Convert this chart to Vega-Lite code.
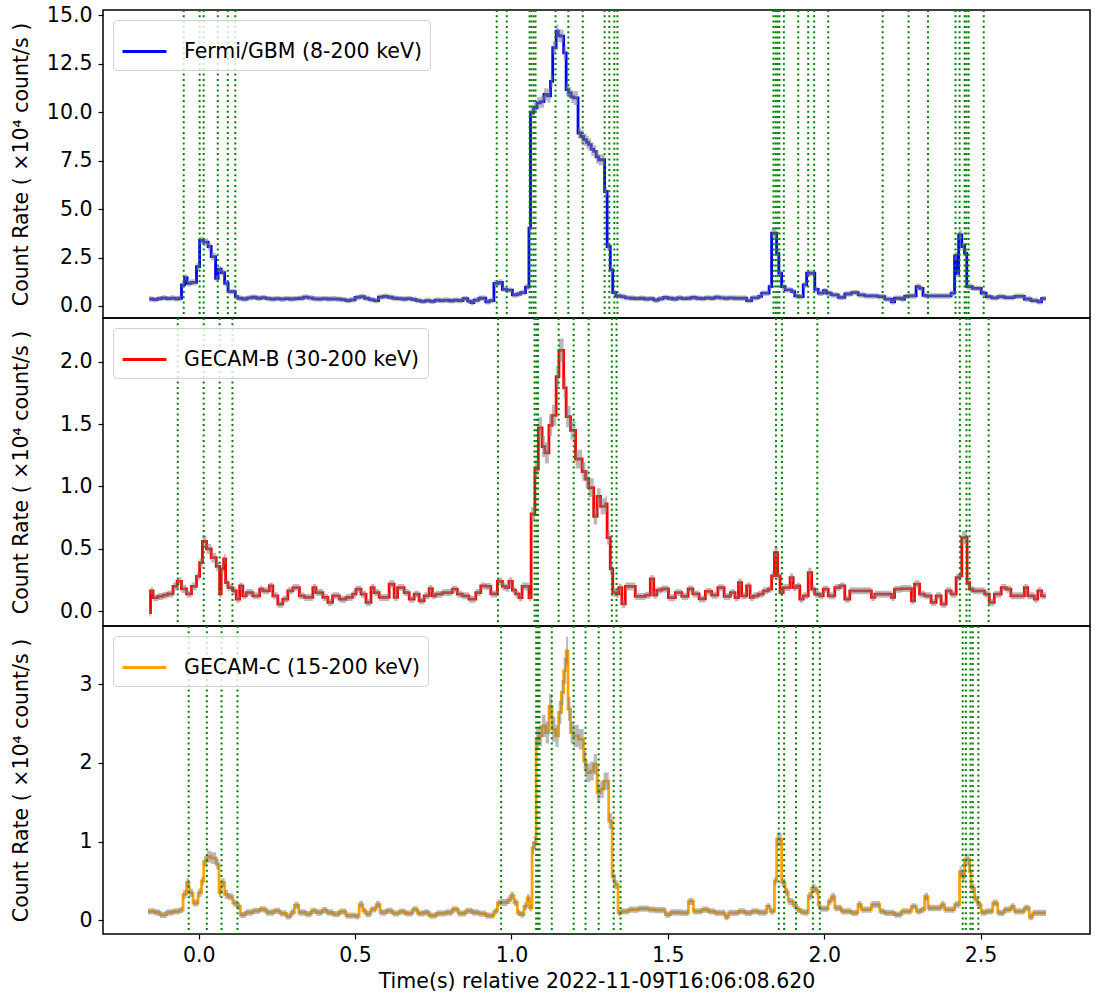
{
  "$schema": "https://vega.github.io/schema/vega-lite/v6.json",
  "padding": {"left": 10, "top": 4, "right": 0, "bottom": 0},
  "spacing": 0,
  "bounds": "flush",
  "config": {
    "font": "DejaVu Sans",
    "view": {"stroke": "black", "strokeWidth": 1.5},
    "axis": {
      "grid": false, "domain": false, "tickColor": "black", "tickSize": 5, "tickWidth": 1.2,
      "labelFontSize": 20.5, "labelColor": "black", "labelPadding": 6, "labelFlush": false, "labelOverlap": false,
      "titleFontSize": 20.5, "titleFontWeight": "normal", "titleColor": "black"
    },
    "axisY": {"minExtent": 64, "maxExtent": 64, "titlePadding": 8},
    "axisX": {"titlePadding": 6},
    "legend": {
      "orient": "top-left", "offset": 10, "padding": 8, "title": null,
      "strokeColor": "#d0d0d0", "fillColor": "rgba(255,255,255,0.8)", "cornerRadius": 4,
      "labelFontSize": 20.5, "labelColor": "black", "labelOffset": 16, "labelLimit": 0,
      "symbolType": "stroke", "symbolStrokeWidth": 2.8, "symbolSize": 1936
    }
  },
  "resolve": {"scale": {"y": "independent", "color": "independent"}, "legend": {"color": "independent"}},
  "datasets": {
    "gbm": [
      {"t":-0.158,"r":0.36,"e":0.14},{"t":-0.145,"r":0.33,"e":0.14},{"t":-0.132,"r":0.38,"e":0.14},{"t":-0.118,"r":0.42,"e":0.14},
      {"t":-0.104,"r":0.38,"e":0.14},{"t":-0.09,"r":0.41,"e":0.14},{"t":-0.076,"r":0.37,"e":0.14},{"t":-0.065,"r":0.40,"e":0.14},
      {"t":-0.055,"r":1.09,"e":0.16},{"t":-0.045,"r":1.46,"e":0.16},{"t":-0.037,"r":1.17,"e":0.16},{"t":-0.025,"r":1.22,"e":0.16},
      {"t":-0.007,"r":2.03,"e":0.2},{"t":0.003,"r":3.38,"e":0.2},{"t":0.016,"r":3.30,"e":0.2},{"t":0.030,"r":3.07,"e":0.2},
      {"t":0.040,"r":2.55,"e":0.2},{"t":0.054,"r":1.43,"e":0.16},{"t":0.062,"r":1.90,"e":0.16},{"t":0.072,"r":1.72,"e":0.16},
      {"t":0.083,"r":1.17,"e":0.16},{"t":0.094,"r":0.74,"e":0.14},{"t":0.117,"r":0.48,"e":0.14},{"t":0.125,"r":0.40,"e":0.14},
      {"t":0.140,"r":0.36,"e":0.14},{"t":0.155,"r":0.42,"e":0.14},{"t":0.170,"r":0.45,"e":0.14},{"t":0.185,"r":0.40,"e":0.14},
      {"t":0.200,"r":0.43,"e":0.14},{"t":0.215,"r":0.38,"e":0.14},{"t":0.230,"r":0.36,"e":0.14},{"t":0.245,"r":0.38,"e":0.14},
      {"t":0.260,"r":0.35,"e":0.14},{"t":0.275,"r":0.38,"e":0.14},{"t":0.290,"r":0.36,"e":0.14},{"t":0.305,"r":0.38,"e":0.14},
      {"t":0.320,"r":0.40,"e":0.14},{"t":0.335,"r":0.46,"e":0.14},{"t":0.350,"r":0.42,"e":0.14},{"t":0.365,"r":0.37,"e":0.14},
      {"t":0.380,"r":0.36,"e":0.14},{"t":0.395,"r":0.38,"e":0.14},{"t":0.410,"r":0.36,"e":0.14},{"t":0.425,"r":0.37,"e":0.14},
      {"t":0.440,"r":0.35,"e":0.14},{"t":0.455,"r":0.33,"e":0.14},{"t":0.470,"r":0.28,"e":0.14},{"t":0.485,"r":0.32,"e":0.14},
      {"t":0.500,"r":0.44,"e":0.14},{"t":0.515,"r":0.48,"e":0.14},{"t":0.530,"r":0.40,"e":0.14},{"t":0.545,"r":0.33,"e":0.14},
      {"t":0.560,"r":0.28,"e":0.14},{"t":0.575,"r":0.46,"e":0.14},{"t":0.590,"r":0.50,"e":0.14},{"t":0.605,"r":0.45,"e":0.14},
      {"t":0.620,"r":0.40,"e":0.14},{"t":0.635,"r":0.38,"e":0.14},{"t":0.650,"r":0.36,"e":0.14},{"t":0.665,"r":0.38,"e":0.14},
      {"t":0.680,"r":0.34,"e":0.14},{"t":0.695,"r":0.28,"e":0.14},{"t":0.710,"r":0.24,"e":0.14},{"t":0.725,"r":0.28,"e":0.14},
      {"t":0.740,"r":0.24,"e":0.14},{"t":0.755,"r":0.30,"e":0.14},{"t":0.770,"r":0.28,"e":0.14},{"t":0.785,"r":0.30,"e":0.14},
      {"t":0.800,"r":0.27,"e":0.14},{"t":0.815,"r":0.30,"e":0.14},{"t":0.830,"r":0.28,"e":0.14},{"t":0.845,"r":0.38,"e":0.14},
      {"t":0.860,"r":0.25,"e":0.14},{"t":0.870,"r":0.18,"e":0.14},{"t":0.880,"r":0.30,"e":0.14},{"t":0.896,"r":0.40,"e":0.14},
      {"t":0.918,"r":0.22,"e":0.14},{"t":0.930,"r":0.28,"e":0.14},{"t":0.944,"r":1.17,"e":0.16},{"t":0.960,"r":1.22,"e":0.16},
      {"t":0.971,"r":0.86,"e":0.14},{"t":0.985,"r":0.82,"e":0.14},{"t":1.003,"r":0.57,"e":0.14},{"t":1.018,"r":0.62,"e":0.14},
      {"t":1.029,"r":0.69,"e":0.14},{"t":1.045,"r":0.97,"e":0.16},{"t":1.056,"r":4.02,"e":0.2},{"t":1.061,"r":9.97,"e":0.28},
      {"t":1.071,"r":10.23,"e":0.28},{"t":1.082,"r":10.49,"e":0.28},{"t":1.093,"r":10.55,"e":0.32},{"t":1.104,"r":10.92,"e":0.32},
      {"t":1.115,"r":10.85,"e":0.36},{"t":1.125,"r":11.6,"e":0.32},{"t":1.132,"r":13.33,"e":0.34},{"t":1.143,"r":14.19,"e":0.34},
      {"t":1.150,"r":13.95,"e":0.34},{"t":1.157,"r":13.93,"e":0.34},{"t":1.167,"r":13.07,"e":0.34},{"t":1.175,"r":11.17,"e":0.32},
      {"t":1.183,"r":11.0,"e":0.32},{"t":1.191,"r":10.8,"e":0.32},{"t":1.199,"r":10.74,"e":0.36},{"t":1.213,"r":8.93,"e":0.28},
      {"t":1.222,"r":8.75,"e":0.32},{"t":1.231,"r":8.59,"e":0.32},{"t":1.240,"r":8.45,"e":0.34},{"t":1.247,"r":8.33,"e":0.32},
      {"t":1.255,"r":8.1,"e":0.34},{"t":1.263,"r":7.98,"e":0.32},{"t":1.271,"r":7.7,"e":0.34},{"t":1.279,"r":7.55,"e":0.28},
      {"t":1.298,"r":5.91,"e":0.26},{"t":1.306,"r":3.07,"e":0.2},{"t":1.316,"r":1.86,"e":0.16},{"t":1.324,"r":0.69,"e":0.14},
      {"t":1.334,"r":0.52,"e":0.14},{"t":1.350,"r":0.48,"e":0.14},{"t":1.364,"r":0.42,"e":0.14},{"t":1.380,"r":0.40,"e":0.14},
      {"t":1.395,"r":0.38,"e":0.14},{"t":1.410,"r":0.40,"e":0.14},{"t":1.425,"r":0.36,"e":0.14},{"t":1.440,"r":0.38,"e":0.14},
      {"t":1.455,"r":0.30,"e":0.14},{"t":1.470,"r":0.37,"e":0.14},{"t":1.485,"r":0.44,"e":0.14},{"t":1.500,"r":0.40,"e":0.14},
      {"t":1.515,"r":0.36,"e":0.14},{"t":1.530,"r":0.42,"e":0.14},{"t":1.545,"r":0.38,"e":0.14},{"t":1.560,"r":0.40,"e":0.14},
      {"t":1.575,"r":0.44,"e":0.14},{"t":1.590,"r":0.40,"e":0.14},{"t":1.605,"r":0.38,"e":0.14},{"t":1.620,"r":0.42,"e":0.14},
      {"t":1.635,"r":0.40,"e":0.14},{"t":1.650,"r":0.45,"e":0.14},{"t":1.665,"r":0.42,"e":0.14},{"t":1.680,"r":0.40,"e":0.14},
      {"t":1.695,"r":0.42,"e":0.14},{"t":1.710,"r":0.40,"e":0.14},{"t":1.726,"r":0.40,"e":0.14},{"t":1.752,"r":0.28,"e":0.14},
      {"t":1.768,"r":0.42,"e":0.14},{"t":1.790,"r":0.50,"e":0.14},{"t":1.800,"r":0.66,"e":0.14},{"t":1.824,"r":1.0,"e":0.16},
      {"t":1.832,"r":3.76,"e":0.24},{"t":1.848,"r":2.72,"e":0.2},{"t":1.855,"r":1.69,"e":0.16},{"t":1.864,"r":1.0,"e":0.16},
      {"t":1.875,"r":0.83,"e":0.14},{"t":1.896,"r":0.74,"e":0.14},{"t":1.906,"r":0.52,"e":0.14},{"t":1.917,"r":0.48,"e":0.14},
      {"t":1.933,"r":1.09,"e":0.16},{"t":1.944,"r":1.69,"e":0.16},{"t":1.970,"r":0.86,"e":0.14},{"t":1.981,"r":0.66,"e":0.14},
      {"t":1.997,"r":0.79,"e":0.14},{"t":2.007,"r":0.66,"e":0.14},{"t":2.023,"r":0.57,"e":0.14},{"t":2.045,"r":0.45,"e":0.14},
      {"t":2.066,"r":0.62,"e":0.14},{"t":2.087,"r":0.69,"e":0.14},{"t":2.109,"r":0.57,"e":0.14},{"t":2.130,"r":0.52,"e":0.14},
      {"t":2.172,"r":0.48,"e":0.14},{"t":2.194,"r":0.35,"e":0.14},{"t":2.215,"r":0.22,"e":0.14},{"t":2.225,"r":0.40,"e":0.14},
      {"t":2.247,"r":0.36,"e":0.14},{"t":2.257,"r":0.50,"e":0.14},{"t":2.268,"r":0.52,"e":0.14},{"t":2.294,"r":1.0,"e":0.16},
      {"t":2.305,"r":0.91,"e":0.14},{"t":2.316,"r":0.55,"e":0.14},{"t":2.326,"r":0.52,"e":0.14},{"t":2.406,"r":0.66,"e":0.14},
      {"t":2.417,"r":2.59,"e":0.2},{"t":2.425,"r":1.69,"e":0.2},{"t":2.430,"r":3.67,"e":0.24},{"t":2.440,"r":3.07,"e":0.2},
      {"t":2.449,"r":2.72,"e":0.2},{"t":2.456,"r":1.0,"e":0.16},{"t":2.474,"r":0.91,"e":0.14},{"t":2.502,"r":0.66,"e":0.14},
      {"t":2.518,"r":0.48,"e":0.14},{"t":2.535,"r":0.42,"e":0.14},{"t":2.555,"r":0.48,"e":0.14},{"t":2.576,"r":0.43,"e":0.14},
      {"t":2.608,"r":0.50,"e":0.14},{"t":2.640,"r":0.36,"e":0.14},{"t":2.661,"r":0.28,"e":0.14},{"t":2.683,"r":0.22,"e":0.14},
      {"t":2.695,"r":0.38,"e":0.14},{"t":2.709,"r":0.38,"e":0.14}
    ],
    "gb": [
      {"t":-0.158,"r":-0.01,"e":0.03},{"t":-0.154,"r":0.165,"e":0.028},{"t":-0.146,"r":0.11,"e":0.028},{"t":-0.130,"r":0.12,"e":0.028},
      {"t":-0.114,"r":0.13,"e":0.028},{"t":-0.100,"r":0.14,"e":0.028},{"t":-0.082,"r":0.20,"e":0.032},{"t":-0.069,"r":0.24,"e":0.032},
      {"t":-0.055,"r":0.18,"e":0.032},{"t":-0.039,"r":0.14,"e":0.028},{"t":-0.023,"r":0.20,"e":0.032},{"t":-0.007,"r":0.28,"e":0.032},
      {"t":0.003,"r":0.39,"e":0.038},{"t":0.012,"r":0.56,"e":0.045},{"t":0.025,"r":0.50,"e":0.04},{"t":0.040,"r":0.43,"e":0.04},
      {"t":0.056,"r":0.36,"e":0.038},{"t":0.067,"r":0.14,"e":0.032},{"t":0.072,"r":0.34,"e":0.038},{"t":0.080,"r":0.42,"e":0.038},
      {"t":0.086,"r":0.23,"e":0.032},{"t":0.094,"r":0.19,"e":0.028},{"t":0.109,"r":0.165,"e":0.028},{"t":0.120,"r":0.098,"e":0.028},
      {"t":0.131,"r":0.204,"e":0.028},{"t":0.141,"r":0.125,"e":0.028},{"t":0.152,"r":0.151,"e":0.028},{"t":0.173,"r":0.125,"e":0.028},
      {"t":0.195,"r":0.178,"e":0.028},{"t":0.205,"r":0.165,"e":0.028},{"t":0.226,"r":0.204,"e":0.028},{"t":0.237,"r":0.125,"e":0.028},
      {"t":0.253,"r":0.058,"e":0.028},{"t":0.269,"r":0.098,"e":0.028},{"t":0.285,"r":0.165,"e":0.028},{"t":0.301,"r":0.191,"e":0.028},
      {"t":0.322,"r":0.125,"e":0.028},{"t":0.338,"r":0.112,"e":0.028},{"t":0.365,"r":0.191,"e":0.028},{"t":0.375,"r":0.151,"e":0.028},
      {"t":0.397,"r":0.112,"e":0.028},{"t":0.413,"r":0.072,"e":0.028},{"t":0.428,"r":0.125,"e":0.028},{"t":0.450,"r":0.098,"e":0.028},
      {"t":0.471,"r":0.112,"e":0.028},{"t":0.492,"r":0.138,"e":0.028},{"t":0.503,"r":0.178,"e":0.028},{"t":0.519,"r":0.138,"e":0.028},
      {"t":0.535,"r":0.072,"e":0.028},{"t":0.551,"r":0.191,"e":0.028},{"t":0.561,"r":0.151,"e":0.028},{"t":0.577,"r":0.112,"e":0.028},
      {"t":0.609,"r":0.218,"e":0.032},{"t":0.625,"r":0.112,"e":0.028},{"t":0.636,"r":0.191,"e":0.028},{"t":0.657,"r":0.151,"e":0.028},
      {"t":0.673,"r":0.098,"e":0.028},{"t":0.689,"r":0.138,"e":0.028},{"t":0.705,"r":0.085,"e":0.028},{"t":0.721,"r":0.125,"e":0.028},
      {"t":0.737,"r":0.183,"e":0.028},{"t":0.747,"r":0.125,"e":0.028},{"t":0.758,"r":0.138,"e":0.028},{"t":0.779,"r":0.151,"e":0.028},
      {"t":0.811,"r":0.178,"e":0.028},{"t":0.827,"r":0.138,"e":0.028},{"t":0.843,"r":0.125,"e":0.028},{"t":0.864,"r":0.098,"e":0.028},
      {"t":0.886,"r":0.151,"e":0.028},{"t":0.902,"r":0.204,"e":0.028},{"t":0.918,"r":0.20,"e":0.028},{"t":0.934,"r":0.14,"e":0.028},
      {"t":0.955,"r":0.24,"e":0.032},{"t":0.971,"r":0.20,"e":0.032},{"t":0.981,"r":0.19,"e":0.032},{"t":0.992,"r":0.24,"e":0.032},
      {"t":1.003,"r":0.17,"e":0.028},{"t":1.013,"r":0.14,"e":0.028},{"t":1.024,"r":0.11,"e":0.028},{"t":1.034,"r":0.20,"e":0.032},
      {"t":1.056,"r":0.11,"e":0.028},{"t":1.063,"r":0.78,"e":0.055},{"t":1.075,"r":1.14,"e":0.075},{"t":1.086,"r":1.47,"e":0.085},
      {"t":1.098,"r":1.32,"e":0.085},{"t":1.107,"r":1.27,"e":0.085},{"t":1.120,"r":1.49,"e":0.085},{"t":1.130,"r":1.57,"e":0.085},
      {"t":1.143,"r":1.88,"e":0.085},{"t":1.152,"r":2.09,"e":0.095},{"t":1.167,"r":1.79,"e":0.085},{"t":1.175,"r":1.56,"e":0.085},
      {"t":1.189,"r":1.45,"e":0.075},{"t":1.205,"r":1.22,"e":0.075},{"t":1.226,"r":1.12,"e":0.075},{"t":1.237,"r":1.06,"e":0.075},
      {"t":1.247,"r":0.99,"e":0.075},{"t":1.263,"r":0.76,"e":0.065},{"t":1.274,"r":0.92,"e":0.065},{"t":1.285,"r":0.84,"e":0.065},
      {"t":1.301,"r":0.86,"e":0.065},{"t":1.306,"r":0.59,"e":0.055},{"t":1.316,"r":0.34,"e":0.045},{"t":1.324,"r":0.15,"e":0.032},
      {"t":1.334,"r":0.14,"e":0.032},{"t":1.343,"r":0.19,"e":0.032},{"t":1.353,"r":0.06,"e":0.032},{"t":1.364,"r":0.20,"e":0.032},
      {"t":1.396,"r":0.12,"e":0.028},{"t":1.428,"r":0.13,"e":0.028},{"t":1.444,"r":0.26,"e":0.032},{"t":1.455,"r":0.13,"e":0.028},
      {"t":1.465,"r":0.17,"e":0.028},{"t":1.481,"r":0.18,"e":0.028},{"t":1.502,"r":0.11,"e":0.028},{"t":1.524,"r":0.15,"e":0.028},
      {"t":1.545,"r":0.12,"e":0.028},{"t":1.565,"r":0.18,"e":0.028},{"t":1.580,"r":0.14,"e":0.028},{"t":1.600,"r":0.10,"e":0.028},
      {"t":1.620,"r":0.16,"e":0.028},{"t":1.640,"r":0.13,"e":0.028},{"t":1.660,"r":0.19,"e":0.028},{"t":1.680,"r":0.12,"e":0.028},
      {"t":1.700,"r":0.15,"e":0.028},{"t":1.715,"r":0.11,"e":0.028},{"t":1.726,"r":0.231,"e":0.032},{"t":1.736,"r":0.125,"e":0.028},
      {"t":1.752,"r":0.204,"e":0.028},{"t":1.763,"r":0.112,"e":0.028},{"t":1.774,"r":0.125,"e":0.028},{"t":1.789,"r":0.138,"e":0.028},
      {"t":1.805,"r":0.165,"e":0.028},{"t":1.821,"r":0.178,"e":0.028},{"t":1.832,"r":0.284,"e":0.032},{"t":1.841,"r":0.471,"e":0.045},
      {"t":1.851,"r":0.284,"e":0.032},{"t":1.859,"r":0.151,"e":0.028},{"t":1.869,"r":0.191,"e":0.028},{"t":1.891,"r":0.271,"e":0.032},
      {"t":1.901,"r":0.191,"e":0.028},{"t":1.912,"r":0.204,"e":0.028},{"t":1.922,"r":0.098,"e":0.028},{"t":1.933,"r":0.125,"e":0.028},
      {"t":1.949,"r":0.311,"e":0.038},{"t":1.960,"r":0.178,"e":0.028},{"t":1.970,"r":0.138,"e":0.028},{"t":1.986,"r":0.125,"e":0.028},
      {"t":1.997,"r":0.178,"e":0.028},{"t":2.013,"r":0.125,"e":0.028},{"t":2.034,"r":0.191,"e":0.028},{"t":2.050,"r":0.204,"e":0.028},
      {"t":2.066,"r":0.098,"e":0.028},{"t":2.082,"r":0.165,"e":0.028},{"t":2.098,"r":0.165,"e":0.028},{"t":2.151,"r":0.112,"e":0.028},
      {"t":2.162,"r":0.138,"e":0.028},{"t":2.215,"r":0.112,"e":0.028},{"t":2.225,"r":0.178,"e":0.028},{"t":2.247,"r":0.183,"e":0.028},
      {"t":2.279,"r":0.085,"e":0.028},{"t":2.289,"r":0.218,"e":0.032},{"t":2.305,"r":0.138,"e":0.028},{"t":2.321,"r":0.125,"e":0.028},
      {"t":2.342,"r":0.072,"e":0.028},{"t":2.358,"r":0.125,"e":0.028},{"t":2.374,"r":0.058,"e":0.028},{"t":2.390,"r":0.165,"e":0.028},
      {"t":2.406,"r":0.138,"e":0.028},{"t":2.422,"r":0.271,"e":0.032},{"t":2.433,"r":0.284,"e":0.032},{"t":2.440,"r":0.591,"e":0.055},
      {"t":2.457,"r":0.231,"e":0.032},{"t":2.465,"r":0.178,"e":0.028},{"t":2.475,"r":0.165,"e":0.028},{"t":2.513,"r":0.138,"e":0.028},
      {"t":2.528,"r":0.072,"e":0.028},{"t":2.544,"r":0.138,"e":0.028},{"t":2.566,"r":0.191,"e":0.028},{"t":2.582,"r":0.178,"e":0.028},
      {"t":2.597,"r":0.125,"e":0.028},{"t":2.640,"r":0.191,"e":0.028},{"t":2.651,"r":0.125,"e":0.028},{"t":2.672,"r":0.098,"e":0.028},
      {"t":2.683,"r":0.165,"e":0.028},{"t":2.695,"r":0.125,"e":0.028},{"t":2.709,"r":0.125,"e":0.028}
    ],
    "gc": [
      {"t":-0.162,"r":0.115,"e":0.04},{"t":-0.140,"r":0.10,"e":0.04},{"t":-0.124,"r":0.07,"e":0.04},{"t":-0.103,"r":0.10,"e":0.04},
      {"t":-0.082,"r":0.115,"e":0.04},{"t":-0.061,"r":0.13,"e":0.04},{"t":-0.050,"r":0.33,"e":0.055},{"t":-0.039,"r":0.48,"e":0.055},
      {"t":-0.031,"r":0.35,"e":0.055},{"t":-0.018,"r":0.22,"e":0.045},{"t":-0.002,"r":0.35,"e":0.055},{"t":0.009,"r":0.50,"e":0.055},
      {"t":0.016,"r":0.75,"e":0.065},{"t":0.027,"r":0.81,"e":0.075},{"t":0.040,"r":0.79,"e":0.075},{"t":0.056,"r":0.71,"e":0.065},
      {"t":0.065,"r":0.35,"e":0.055},{"t":0.072,"r":0.48,"e":0.055},{"t":0.083,"r":0.33,"e":0.055},{"t":0.094,"r":0.30,"e":0.045},
      {"t":0.109,"r":0.22,"e":0.045},{"t":0.122,"r":0.18,"e":0.045},{"t":0.133,"r":0.07,"e":0.04},{"t":0.150,"r":0.10,"e":0.04},
      {"t":0.173,"r":0.12,"e":0.04},{"t":0.195,"r":0.14,"e":0.04},{"t":0.216,"r":0.10,"e":0.04},{"t":0.240,"r":0.12,"e":0.04},
      {"t":0.260,"r":0.09,"e":0.04},{"t":0.280,"r":0.05,"e":0.04},{"t":0.295,"r":0.10,"e":0.04},{"t":0.306,"r":0.19,"e":0.045},
      {"t":0.320,"r":0.10,"e":0.04},{"t":0.343,"r":0.08,"e":0.04},{"t":0.360,"r":0.12,"e":0.04},{"t":0.376,"r":0.10,"e":0.04},
      {"t":0.395,"r":0.13,"e":0.04},{"t":0.410,"r":0.10,"e":0.04},{"t":0.429,"r":0.08,"e":0.04},{"t":0.450,"r":0.11,"e":0.04},
      {"t":0.471,"r":0.06,"e":0.04},{"t":0.490,"r":0.06,"e":0.04},{"t":0.503,"r":0.05,"e":0.04},{"t":0.513,"r":0.20,"e":0.045},
      {"t":0.525,"r":0.12,"e":0.04},{"t":0.535,"r":0.08,"e":0.04},{"t":0.550,"r":0.14,"e":0.04},{"t":0.567,"r":0.20,"e":0.045},
      {"t":0.580,"r":0.10,"e":0.04},{"t":0.600,"r":0.12,"e":0.04},{"t":0.620,"r":0.09,"e":0.04},{"t":0.641,"r":0.11,"e":0.04},
      {"t":0.660,"r":0.09,"e":0.04},{"t":0.684,"r":0.14,"e":0.04},{"t":0.700,"r":0.09,"e":0.04},{"t":0.720,"r":0.10,"e":0.04},
      {"t":0.737,"r":0.06,"e":0.04},{"t":0.760,"r":0.09,"e":0.04},{"t":0.790,"r":0.10,"e":0.04},{"t":0.811,"r":0.14,"e":0.04},
      {"t":0.830,"r":0.09,"e":0.04},{"t":0.854,"r":0.12,"e":0.04},{"t":0.875,"r":0.10,"e":0.04},{"t":0.896,"r":0.085,"e":0.04},
      {"t":0.918,"r":0.06,"e":0.04},{"t":0.944,"r":0.115,"e":0.04},{"t":0.955,"r":0.221,"e":0.045},{"t":0.965,"r":0.229,"e":0.045},
      {"t":0.987,"r":0.254,"e":0.045},{"t":0.997,"r":0.314,"e":0.05},{"t":1.008,"r":0.229,"e":0.045},{"t":1.019,"r":0.094,"e":0.04},
      {"t":1.029,"r":0.073,"e":0.04},{"t":1.040,"r":0.178,"e":0.045},{"t":1.050,"r":0.285,"e":0.05},{"t":1.058,"r":0.158,"e":0.045},
      {"t":1.066,"r":0.921,"e":0.085},{"t":1.072,"r":0.985,"e":0.085},{"t":1.079,"r":2.299,"e":0.13},{"t":1.088,"r":2.341,"e":0.13},
      {"t":1.098,"r":2.468,"e":0.14},{"t":1.109,"r":2.384,"e":0.14},{"t":1.120,"r":2.715,"e":0.16},{"t":1.130,"r":2.426,"e":0.16},
      {"t":1.141,"r":2.341,"e":0.14},{"t":1.151,"r":2.639,"e":0.15},{"t":1.160,"r":2.893,"e":0.16},{"t":1.167,"r":3.168,"e":0.17},
      {"t":1.175,"r":3.422,"e":0.18},{"t":1.181,"r":2.681,"e":0.15},{"t":1.189,"r":2.384,"e":0.14},{"t":1.199,"r":2.341,"e":0.14},
      {"t":1.215,"r":2.299,"e":0.13},{"t":1.231,"r":2.023,"e":0.13},{"t":1.239,"r":1.875,"e":0.12},{"t":1.252,"r":1.896,"e":0.12},
      {"t":1.263,"r":1.981,"e":0.13},{"t":1.274,"r":1.621,"e":0.12},{"t":1.284,"r":1.663,"e":0.11},{"t":1.295,"r":1.768,"e":0.11},
      {"t":1.311,"r":1.260,"e":0.1},{"t":1.322,"r":0.560,"e":0.065},{"t":1.330,"r":0.454,"e":0.055},{"t":1.341,"r":0.094,"e":0.04},
      {"t":1.351,"r":0.115,"e":0.04},{"t":1.375,"r":0.136,"e":0.04},{"t":1.407,"r":0.15,"e":0.04},{"t":1.439,"r":0.136,"e":0.04},
      {"t":1.460,"r":0.13,"e":0.04},{"t":1.492,"r":0.073,"e":0.04},{"t":1.508,"r":0.10,"e":0.04},{"t":1.545,"r":0.094,"e":0.04},
      {"t":1.566,"r":0.24,"e":0.045},{"t":1.582,"r":0.115,"e":0.04},{"t":1.609,"r":0.136,"e":0.04},{"t":1.630,"r":0.115,"e":0.04},
      {"t":1.651,"r":0.094,"e":0.04},{"t":1.683,"r":0.043,"e":0.04},{"t":1.694,"r":0.094,"e":0.04},{"t":1.726,"r":0.115,"e":0.04},
      {"t":1.747,"r":0.094,"e":0.04},{"t":1.768,"r":0.115,"e":0.04},{"t":1.790,"r":0.10,"e":0.04},{"t":1.816,"r":0.178,"e":0.04},
      {"t":1.827,"r":0.115,"e":0.04},{"t":1.841,"r":0.50,"e":0.055},{"t":1.848,"r":1.03,"e":0.085},{"t":1.864,"r":0.48,"e":0.055},
      {"t":1.875,"r":0.36,"e":0.05},{"t":1.885,"r":0.24,"e":0.045},{"t":1.901,"r":0.19,"e":0.045},{"t":1.912,"r":0.14,"e":0.04},
      {"t":1.922,"r":0.11,"e":0.04},{"t":1.933,"r":0.10,"e":0.04},{"t":1.949,"r":0.31,"e":0.05},{"t":1.960,"r":0.41,"e":0.055},
      {"t":1.972,"r":0.38,"e":0.05},{"t":1.981,"r":0.20,"e":0.045},{"t":1.986,"r":0.15,"e":0.04},{"t":2.013,"r":0.24,"e":0.045},
      {"t":2.023,"r":0.30,"e":0.05},{"t":2.034,"r":0.157,"e":0.04},{"t":2.055,"r":0.115,"e":0.04},{"t":2.087,"r":0.094,"e":0.04},
      {"t":2.108,"r":0.20,"e":0.045},{"t":2.119,"r":0.136,"e":0.04},{"t":2.151,"r":0.20,"e":0.045},{"t":2.162,"r":0.20,"e":0.045},
      {"t":2.178,"r":0.115,"e":0.04},{"t":2.193,"r":0.094,"e":0.04},{"t":2.225,"r":0.073,"e":0.04},{"t":2.247,"r":0.115,"e":0.04},
      {"t":2.279,"r":0.178,"e":0.04},{"t":2.295,"r":0.115,"e":0.04},{"t":2.310,"r":0.136,"e":0.04},{"t":2.321,"r":0.30,"e":0.05},
      {"t":2.332,"r":0.157,"e":0.04},{"t":2.353,"r":0.157,"e":0.04},{"t":2.374,"r":0.20,"e":0.045},{"t":2.385,"r":0.136,"e":0.04},
      {"t":2.417,"r":0.20,"e":0.045},{"t":2.433,"r":0.62,"e":0.065},{"t":2.440,"r":0.55,"e":0.065},{"t":2.449,"r":0.77,"e":0.075},
      {"t":2.465,"r":0.62,"e":0.065},{"t":2.470,"r":0.41,"e":0.055},{"t":2.481,"r":0.27,"e":0.045},{"t":2.491,"r":0.20,"e":0.045},
      {"t":2.502,"r":0.10,"e":0.04},{"t":2.518,"r":0.115,"e":0.04},{"t":2.539,"r":0.22,"e":0.045},{"t":2.555,"r":0.094,"e":0.04},
      {"t":2.576,"r":0.136,"e":0.04},{"t":2.598,"r":0.178,"e":0.04},{"t":2.608,"r":0.115,"e":0.04},{"t":2.640,"r":0.157,"e":0.04},
      {"t":2.656,"r":0.043,"e":0.04},{"t":2.667,"r":0.094,"e":0.04},{"t":2.709,"r":0.094,"e":0.04}
    ],
    "vgbm": [
      {"t":-0.048},{"t":0.003},{"t":0.016},{"t":0.061},{"t":0.093},{"t":0.117},{"t":0.953},{"t":0.985},{"t":1.058},{"t":1.064},
      {"t":1.071},{"t":1.077},{"t":1.141},{"t":1.182},{"t":1.228},{"t":1.298},{"t":1.313},{"t":1.329},{"t":1.339},{"t":1.838},
      {"t":1.845},{"t":1.851},{"t":1.857},{"t":1.871},{"t":1.917},{"t":1.949},{"t":1.968},{"t":2.013},{"t":2.187},{"t":2.270},
      {"t":2.332},{"t":2.420},{"t":2.433},{"t":2.449},{"t":2.455},{"t":2.462},{"t":2.510}
    ],
    "vgb": [
      {"t":-0.067},{"t":0.016},{"t":0.067},{"t":0.108},{"t":0.957},{"t":1.074},{"t":1.080},{"t":1.085},{"t":1.151},{"t":1.199},
      {"t":1.247},{"t":1.321},{"t":1.336},{"t":1.846},{"t":1.865},{"t":1.978},{"t":2.434},{"t":2.455},{"t":2.465},{"t":2.526}
    ],
    "vgc": [
      {"t":-0.032},{"t":0.026},{"t":0.073},{"t":0.124},{"t":0.967},{"t":1.079},{"t":1.085},{"t":1.090},{"t":1.129},{"t":1.199},
      {"t":1.237},{"t":1.279},{"t":1.327},{"t":1.349},{"t":1.855},{"t":1.872},{"t":1.910},{"t":1.964},{"t":1.986},{"t":2.443},
      {"t":2.453},{"t":2.468},{"t":2.475},{"t":2.493}
    ]
  },
  "vconcat": [
    {
      "width": 987, "height": 308,
      "encoding": {"x": {"field": "t", "type": "quantitative", "scale": {"domain": [-0.306, 2.85], "nice": false, "zero": false}, "axis": null}},
      "layer": [
        {
          "data": {"name": "gbm"},
          "encoding": {"y": {"field": "r", "type": "quantitative", "scale": {"domain": [-0.62, 15.28], "nice": false, "zero": false},
            "axis": {"values": [0, 2.5, 5, 7.5, 10, 12.5, 15], "format": ".1f", "title": "Count Rate ( ×10⁴ count/s )"}}},
          "layer": [
            {"mark": {"type": "line", "interpolate": "step-after", "strokeWidth": 2.8, "clip": true},
             "encoding": {"color": {"datum": "Fermi/GBM (8-200 keV)", "type": "nominal", "scale": {"range": ["#0000ff"]}}}},
            {"mark": {"type": "errorband", "interpolate": "step-after", "color": "#808080", "opacity": 0.55, "clip": true},
             "encoding": {"yError": {"field": "e"}}}
          ]
        },
        {"data": {"name": "vgbm"}, "mark": {"type": "rule", "color": "#008000", "strokeDash": [2, 3.3], "strokeWidth": 2}, "encoding": {}}
      ]
    },
    {
      "width": 987, "height": 308,
      "encoding": {"x": {"field": "t", "type": "quantitative", "scale": {"domain": [-0.306, 2.85], "nice": false, "zero": false}, "axis": null}},
      "layer": [
        {
          "data": {"name": "gb"},
          "encoding": {"y": {"field": "r", "type": "quantitative", "scale": {"domain": [-0.117, 2.349], "nice": false, "zero": false},
            "axis": {"values": [0, 0.5, 1, 1.5, 2], "format": ".1f", "title": "Count Rate ( ×10⁴ count/s )"}}},
          "layer": [
            {"mark": {"type": "line", "interpolate": "step-after", "strokeWidth": 2.8, "clip": true},
             "encoding": {"color": {"datum": "GECAM-B (30-200 keV)", "type": "nominal", "scale": {"range": ["#ff0000"]}}}},
            {"mark": {"type": "errorband", "interpolate": "step-after", "color": "#808080", "opacity": 0.55, "clip": true},
             "encoding": {"yError": {"field": "e"}}}
          ]
        },
        {"data": {"name": "vgb"}, "mark": {"type": "rule", "color": "#008000", "strokeDash": [2, 3.3], "strokeWidth": 2}, "encoding": {}}
      ]
    },
    {
      "width": 987, "height": 308,
      "encoding": {"x": {"field": "t", "type": "quantitative", "scale": {"domain": [-0.306, 2.85], "nice": false, "zero": false},
        "axis": {"values": [0, 0.5, 1, 1.5, 2, 2.5], "format": ".1f", "title": "Time(s) relative 2022-11-09T16:06:08.620"}}},
      "layer": [
        {
          "data": {"name": "gc"},
          "encoding": {"y": {"field": "r", "type": "quantitative", "scale": {"domain": [-0.173, 3.737], "nice": false, "zero": false},
            "axis": {"values": [0, 1, 2, 3], "format": "d", "title": "Count Rate ( ×10⁴ count/s )"}}},
          "layer": [
            {"mark": {"type": "line", "interpolate": "step-after", "strokeWidth": 2.8, "clip": true},
             "encoding": {"color": {"datum": "GECAM-C (15-200 keV)", "type": "nominal", "scale": {"range": ["#ffa500"]}}}},
            {"mark": {"type": "errorband", "interpolate": "step-after", "color": "#808080", "opacity": 0.55, "clip": true},
             "encoding": {"yError": {"field": "e"}}}
          ]
        },
        {"data": {"name": "vgc"}, "mark": {"type": "rule", "color": "#008000", "strokeDash": [2, 3.3], "strokeWidth": 2}, "encoding": {}}
      ]
    }
  ]
}
